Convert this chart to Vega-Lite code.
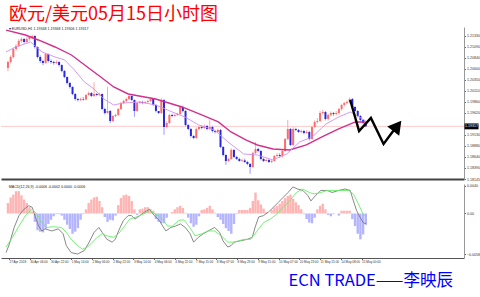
{
"$schema": "https://vega.github.io/schema/vega-lite/v6.json",
"background": "white",
"padding": {"left": 0, "top": 5, "right": 0, "bottom": 0},
"spacing": 2,
"datasets": {
"candles": [
{"i":0,"o":1.2062,"h":1.2078,"l":1.2055,"c":1.20751,"hist":0.0015},
{"i":1,"o":1.20751,"h":1.209,"l":1.2072,"c":1.20862,"hist":0.0023},
{"i":2,"o":1.20862,"h":1.2107,"l":1.2083,"c":1.2104,"hist":0.0027},
{"i":3,"o":1.2104,"h":1.2115,"l":1.21,"c":1.21107,"hist":0.0032},
{"i":4,"o":1.21107,"h":1.2126,"l":1.2108,"c":1.21219,"hist":0.0032},
{"i":5,"o":1.21219,"h":1.213,"l":1.2118,"c":1.21263,"hist":0.0026},
{"i":6,"o":1.21263,"h":1.2129,"l":1.2116,"c":1.21196,"hist":0.002},
{"i":7,"o":1.21196,"h":1.2131,"l":1.2117,"c":1.21263,"hist":0.0015},
{"i":8,"o":1.21263,"h":1.2133,"l":1.2122,"c":1.21308,"hist":0.0009},
{"i":9,"o":1.21308,"h":1.2136,"l":1.2126,"c":1.2133,"hist":0.0003},
{"i":10,"o":1.2133,"h":1.2135,"l":1.2105,"c":1.21085,"hist":-0.0012},
{"i":11,"o":1.21085,"h":1.211,"l":1.2083,"c":1.20862,"hist":-0.0024},
{"i":12,"o":1.20862,"h":1.209,"l":1.2073,"c":1.20773,"hist":-0.0026},
{"i":13,"o":1.20773,"h":1.208,"l":1.2068,"c":1.20729,"hist":-0.0027},
{"i":14,"o":1.20729,"h":1.2095,"l":1.2071,"c":1.20929,"hist":-0.0022},
{"i":15,"o":1.20929,"h":1.2094,"l":1.2074,"c":1.20773,"hist":-0.0015},
{"i":16,"o":1.20773,"h":1.2081,"l":1.2071,"c":1.20751,"hist":-0.0009},
{"i":17,"o":1.20751,"h":1.2078,"l":1.2069,"c":1.20729,"hist":-0.0004},
{"i":18,"o":1.20729,"h":1.2079,"l":1.207,"c":1.20751,"hist":-0.0001},
{"i":19,"o":1.20751,"h":1.2077,"l":1.2065,"c":1.20684,"hist":-0.0001},
{"i":20,"o":1.20684,"h":1.207,"l":1.2052,"c":1.20551,"hist":-0.0003},
{"i":21,"o":1.20551,"h":1.2057,"l":1.2039,"c":1.20417,"hist":-0.0009},
{"i":22,"o":1.20417,"h":1.2043,"l":1.2025,"c":1.20283,"hist":-0.0016},
{"i":23,"o":1.20283,"h":1.2031,"l":1.2016,"c":1.20194,"hist":-0.0022},
{"i":24,"o":1.20194,"h":1.2021,"l":1.2001,"c":1.20038,"hist":-0.0029},
{"i":25,"o":1.20038,"h":1.2006,"l":1.1989,"c":1.19927,"hist":-0.0026},
{"i":26,"o":1.19927,"h":1.1995,"l":1.1987,"c":1.19905,"hist":-0.0021},
{"i":27,"o":1.19905,"h":1.1996,"l":1.1988,"c":1.19927,"hist":-0.0009},
{"i":28,"o":1.19927,"h":1.1997,"l":1.1989,"c":1.19915,"hist":-0.0001},
{"i":29,"o":1.19915,"h":1.2004,"l":1.199,"c":1.20016,"hist":0.0006},
{"i":30,"o":1.20016,"h":1.2009,"l":1.2,"c":1.20061,"hist":0.0015},
{"i":31,"o":1.20061,"h":1.2008,"l":1.1997,"c":1.19994,"hist":0.002},
{"i":32,"o":1.19994,"h":1.203,"l":1.1997,"c":1.20038,"hist":0.0023},
{"i":33,"o":1.20038,"h":1.2006,"l":1.1999,"c":1.20016,"hist":0.0024},
{"i":34,"o":1.20016,"h":1.2007,"l":1.1999,"c":1.20038,"hist":0.0018},
{"i":35,"o":1.20038,"h":1.2005,"l":1.1968,"c":1.19704,"hist":0.0009},
{"i":36,"o":1.19704,"h":1.1973,"l":1.1958,"c":1.19615,"hist":-0.0005},
{"i":37,"o":1.19615,"h":1.202,"l":1.196,"c":1.1966,"hist":-0.0012},
{"i":38,"o":1.1966,"h":1.1968,"l":1.1939,"c":1.19437,"hist":-0.0009},
{"i":39,"o":1.19437,"h":1.1957,"l":1.1941,"c":1.19548,"hist":-0.001},
{"i":40,"o":1.19548,"h":1.196,"l":1.1952,"c":1.19571,"hist":-0.0003},
{"i":41,"o":1.19571,"h":1.1973,"l":1.1955,"c":1.19704,"hist":0.0012},
{"i":42,"o":1.19704,"h":1.1986,"l":1.1968,"c":1.19838,"hist":0.0022},
{"i":43,"o":1.19838,"h":1.1991,"l":1.1981,"c":1.19882,"hist":0.0026},
{"i":44,"o":1.19882,"h":1.1996,"l":1.1985,"c":1.19927,"hist":0.0027},
{"i":45,"o":1.19927,"h":1.2003,"l":1.199,"c":1.19994,"hist":0.0025},
{"i":46,"o":1.19994,"h":1.2001,"l":1.1988,"c":1.19905,"hist":0.0018},
{"i":47,"o":1.19905,"h":1.1992,"l":1.1953,"c":1.1966,"hist":0.0006},
{"i":48,"o":1.1966,"h":1.1986,"l":1.1964,"c":1.19838,"hist":-0.0002},
{"i":49,"o":1.19838,"h":1.1989,"l":1.1982,"c":1.1986,"hist":0.0006},
{"i":50,"o":1.1986,"h":1.1989,"l":1.1981,"c":1.19838,"hist":0.0007},
{"i":51,"o":1.19838,"h":1.1988,"l":1.1982,"c":1.1986,"hist":0.0009},
{"i":52,"o":1.1986,"h":1.1991,"l":1.1984,"c":1.19882,"hist":0.0009},
{"i":53,"o":1.19882,"h":1.1996,"l":1.1986,"c":1.19927,"hist":0.0006},
{"i":54,"o":1.19927,"h":1.1994,"l":1.1977,"c":1.19793,"hist":0.0004},
{"i":55,"o":1.19793,"h":1.1981,"l":1.1963,"c":1.1966,"hist":-0.0008},
{"i":56,"o":1.1966,"h":1.1966,"l":1.1959,"c":1.19615,"hist":-0.0012},
{"i":57,"o":1.19615,"h":1.1995,"l":1.1959,"c":1.19905,"hist":-0.0014},
{"i":58,"o":1.19905,"h":1.1993,"l":1.1913,"c":1.19303,"hist":-0.0014},
{"i":59,"o":1.19303,"h":1.1943,"l":1.1927,"c":1.19392,"hist":-0.0006},
{"i":60,"o":1.19392,"h":1.196,"l":1.1937,"c":1.19571,"hist":0.0},
{"i":61,"o":1.19571,"h":1.196,"l":1.1952,"c":1.19548,"hist":0.0002},
{"i":62,"o":1.19548,"h":1.196,"l":1.1953,"c":1.19571,"hist":0.0006},
{"i":63,"o":1.19571,"h":1.1962,"l":1.1955,"c":1.19593,"hist":0.0009},
{"i":64,"o":1.19593,"h":1.1978,"l":1.1957,"c":1.19749,"hist":0.0011},
{"i":65,"o":1.19749,"h":1.1978,"l":1.1963,"c":1.1966,"hist":0.0008},
{"i":66,"o":1.1966,"h":1.1968,"l":1.1932,"c":1.19348,"hist":0.0001},
{"i":67,"o":1.19348,"h":1.1937,"l":1.1923,"c":1.19259,"hist":-0.0006},
{"i":68,"o":1.19259,"h":1.1928,"l":1.1907,"c":1.19103,"hist":-0.0014},
{"i":69,"o":1.19103,"h":1.1912,"l":1.1903,"c":1.19058,"hist":-0.0019},
{"i":70,"o":1.19058,"h":1.1929,"l":1.1904,"c":1.19259,"hist":-0.0016},
{"i":71,"o":1.19259,"h":1.1933,"l":1.1923,"c":1.19303,"hist":-0.0004},
{"i":72,"o":1.19303,"h":1.1934,"l":1.1925,"c":1.19281,"hist":0.0005},
{"i":73,"o":1.19281,"h":1.1936,"l":1.1926,"c":1.19326,"hist":0.0006},
{"i":74,"o":1.19326,"h":1.1935,"l":1.1923,"c":1.19259,"hist":0.0008},
{"i":75,"o":1.19259,"h":1.1945,"l":1.1923,"c":1.19303,"hist":0.0011},
{"i":76,"o":1.19303,"h":1.1933,"l":1.1918,"c":1.19214,"hist":0.0006},
{"i":77,"o":1.19214,"h":1.1923,"l":1.1916,"c":1.19192,"hist":0.0001},
{"i":78,"o":1.19192,"h":1.1927,"l":1.1917,"c":1.19237,"hist":-0.0005},
{"i":79,"o":1.19237,"h":1.1926,"l":1.1883,"c":1.18858,"hist":-0.0009},
{"i":80,"o":1.18858,"h":1.1888,"l":1.1865,"c":1.1868,"hist":-0.0015},
{"i":81,"o":1.1868,"h":1.187,"l":1.1846,"c":1.18546,"hist":-0.0021},
{"i":82,"o":1.18546,"h":1.1862,"l":1.1852,"c":1.18591,"hist":-0.0025},
{"i":83,"o":1.18591,"h":1.1883,"l":1.1857,"c":1.18792,"hist":-0.0029},
{"i":84,"o":1.18792,"h":1.1881,"l":1.1861,"c":1.18636,"hist":-0.0015},
{"i":85,"o":1.18636,"h":1.1866,"l":1.1857,"c":1.18591,"hist":-0.0001},
{"i":86,"o":1.18591,"h":1.1862,"l":1.1853,"c":1.18546,"hist":0.0005},
{"i":87,"o":1.18546,"h":1.186,"l":1.1852,"c":1.1856,"hist":0.0005},
{"i":88,"o":1.1856,"h":1.186,"l":1.185,"c":1.18524,"hist":0.0005},
{"i":89,"o":1.18524,"h":1.1855,"l":1.1845,"c":1.1848,"hist":0.0005},
{"i":90,"o":1.1848,"h":1.185,"l":1.1826,"c":1.18413,"hist":0.0008},
{"i":91,"o":1.18413,"h":1.1875,"l":1.1839,"c":1.18725,"hist":0.0018},
{"i":92,"o":1.18725,"h":1.1897,"l":1.187,"c":1.18814,"hist":0.003},
{"i":93,"o":1.18814,"h":1.1884,"l":1.1874,"c":1.18769,"hist":0.0019},
{"i":94,"o":1.18769,"h":1.1879,"l":1.1856,"c":1.18591,"hist":0.0013},
{"i":95,"o":1.18591,"h":1.1862,"l":1.1852,"c":1.18546,"hist":0.0007},
{"i":96,"o":1.18546,"h":1.186,"l":1.1853,"c":1.18569,"hist":0.0002},
{"i":97,"o":1.18569,"h":1.1859,"l":1.185,"c":1.18524,"hist":0.0},
{"i":98,"o":1.18524,"h":1.1857,"l":1.185,"c":1.18546,"hist":0.0005},
{"i":99,"o":1.18546,"h":1.1868,"l":1.1853,"c":1.18658,"hist":0.0009},
{"i":100,"o":1.18658,"h":1.1872,"l":1.1863,"c":1.1868,"hist":0.0011},
{"i":101,"o":1.1868,"h":1.1872,"l":1.1862,"c":1.18658,"hist":0.0014},
{"i":102,"o":1.18658,"h":1.188,"l":1.1862,"c":1.18769,"hist":0.0018},
{"i":103,"o":1.18769,"h":1.1906,"l":1.1875,"c":1.19036,"hist":0.0022},
{"i":104,"o":1.19036,"h":1.1946,"l":1.1901,"c":1.19259,"hist":0.0025},
{"i":105,"o":1.19259,"h":1.1928,"l":1.1888,"c":1.18903,"hist":0.0027},
{"i":106,"o":1.18903,"h":1.193,"l":1.1888,"c":1.19259,"hist":0.0021},
{"i":107,"o":1.19259,"h":1.1929,"l":1.1921,"c":1.19237,"hist":0.0016},
{"i":108,"o":1.19237,"h":1.1926,"l":1.1917,"c":1.19192,"hist":0.0012},
{"i":109,"o":1.19192,"h":1.1925,"l":1.1916,"c":1.19214,"hist":0.0006},
{"i":110,"o":1.19214,"h":1.1924,"l":1.1914,"c":1.1917,"hist":-0.0001},
{"i":111,"o":1.1917,"h":1.1923,"l":1.1915,"c":1.19192,"hist":-0.0008},
{"i":112,"o":1.19192,"h":1.1922,"l":1.19,"c":1.19036,"hist":-0.0013},
{"i":113,"o":1.19036,"h":1.1933,"l":1.1902,"c":1.19303,"hist":-0.0014},
{"i":114,"o":1.19303,"h":1.1945,"l":1.1928,"c":1.19415,"hist":-0.0006},
{"i":115,"o":1.19415,"h":1.195,"l":1.1938,"c":1.19437,"hist":0.0006},
{"i":116,"o":1.19437,"h":1.1966,"l":1.1941,"c":1.19615,"hist":0.0011},
{"i":117,"o":1.19615,"h":1.1968,"l":1.1958,"c":1.19637,"hist":0.0014},
{"i":118,"o":1.19637,"h":1.1966,"l":1.1945,"c":1.19482,"hist":0.0006},
{"i":119,"o":1.19482,"h":1.196,"l":1.1945,"c":1.19571,"hist":-0.0002},
{"i":120,"o":1.19571,"h":1.1965,"l":1.1954,"c":1.19615,"hist":-0.0004},
{"i":121,"o":1.19615,"h":1.1964,"l":1.1955,"c":1.19593,"hist":-0.0001},
{"i":122,"o":1.19593,"h":1.1966,"l":1.1956,"c":1.19615,"hist":0.0},
{"i":123,"o":1.19615,"h":1.1973,"l":1.1958,"c":1.19704,"hist":-0.0003},
{"i":124,"o":1.19704,"h":1.1982,"l":1.1967,"c":1.19793,"hist":0.0004},
{"i":125,"o":1.19793,"h":1.1986,"l":1.1976,"c":1.19838,"hist":0.0004},
{"i":126,"o":1.19838,"h":1.1989,"l":1.1981,"c":1.1986,"hist":0.0004},
{"i":127,"o":1.1986,"h":1.1996,"l":1.1983,"c":1.19927,"hist":0.0004},
{"i":128,"o":1.19927,"h":1.1995,"l":1.1972,"c":1.19749,"hist":-0.0008},
{"i":129,"o":1.19749,"h":1.1977,"l":1.1963,"c":1.1966,"hist":-0.0018},
{"i":130,"o":1.1966,"h":1.1968,"l":1.1952,"c":1.19548,"hist":-0.0029},
{"i":131,"o":1.19548,"h":1.1957,"l":1.1943,"c":1.19459,"hist":-0.0037},
{"i":132,"o":1.19459,"h":1.1948,"l":1.1937,"c":1.19392,"hist":-0.003},
{"i":133,"o":1.19392,"h":1.1941,"l":1.193,"c":1.19317,"hist":-0.0016}
],
"slow": [
{"i":-0.7,"v":1.2146},{"i":6.5,"v":1.21352},{"i":11.3,"v":1.21241},{"i":17.5,"v":1.21085},{"i":23.6,"v":1.20907},{"i":29.5,"v":1.2064},{"i":34.5,"v":1.20417},{"i":39.3,"v":1.20194},{"i":44.7,"v":1.20038},{"i":54.9,"v":1.19927},{"i":64.7,"v":1.19749},{"i":72,"v":1.19571},{"i":78.2,"v":1.19415},{"i":82.9,"v":1.19192},{"i":88.4,"v":1.19014},{"i":92.7,"v":1.18903},{"i":98.5,"v":1.18814},{"i":104.7,"v":1.18792},{"i":110.9,"v":1.18903},{"i":116.7,"v":1.19081},{"i":122.9,"v":1.19259},{"i":129.1,"v":1.19415},{"i":133,"v":1.19415}
],
"fast": [
{"i":-0.7,"v":1.20974},{"i":2.9,"v":1.21085},{"i":8.4,"v":1.21196},{"i":12.7,"v":1.20974},{"i":17.5,"v":1.20862},{"i":21.1,"v":1.20796},{"i":24.7,"v":1.20573},{"i":28.4,"v":1.20306},{"i":32,"v":1.2015},{"i":35.6,"v":1.19927},{"i":39.3,"v":1.19793},{"i":42.9,"v":1.19838},{"i":49.1,"v":1.1986},{"i":54.9,"v":1.19793},{"i":61.1,"v":1.19637},{"i":65.8,"v":1.19526},{"i":70.9,"v":1.19348},{"i":76.7,"v":1.19237},{"i":81.8,"v":1.1897},{"i":87.6,"v":1.18702},{"i":92.7,"v":1.1868},{"i":98.5,"v":1.18569},{"i":103.6,"v":1.18702},{"i":108.4,"v":1.1897},{"i":113.1,"v":1.19081},{"i":118.2,"v":1.1937},{"i":122.9,"v":1.19526},{"i":127.3,"v":1.19637},{"i":133,"v":1.19437}
],
"macd": [
{"i":-0.7,"v":-0.0056},{"i":0.5,"v":-0.0044},{"i":2.3,"v":-0.002},{"i":4.1,"v":-0.0003},{"i":5.9,"v":0.0006},{"i":7.7,"v":0.0011},{"i":9,"v":0.0009},{"i":10.2,"v":-0.0005},{"i":11.4,"v":-0.0018},{"i":12.6,"v":-0.0025},{"i":13.8,"v":-0.0022},{"i":16.3,"v":-0.0025},{"i":18.7,"v":-0.0022},{"i":20.5,"v":-0.0029},{"i":21.7,"v":-0.0046},{"i":23.5,"v":-0.0056},{"i":25.9,"v":-0.0058},{"i":28.4,"v":-0.0053},{"i":30.2,"v":-0.0041},{"i":32,"v":-0.0027},{"i":33.8,"v":-0.002},{"i":35,"v":-0.0027},{"i":36.8,"v":-0.0037},{"i":38.7,"v":-0.0041},{"i":39.9,"v":-0.0037},{"i":41.1,"v":-0.0025},{"i":42.9,"v":-0.001},{"i":44.7,"v":-0.0003},{"i":45.9,"v":-0.0003},{"i":47.2,"v":-0.0008},{"i":49,"v":-0.0003},{"i":50.8,"v":0.0002},{"i":52.6,"v":0.0006},{"i":54.4,"v":-0.0003},{"i":56.3,"v":-0.001},{"i":57.5,"v":-0.0018},{"i":58.7,"v":-0.0025},{"i":60.5,"v":-0.002},{"i":62.3,"v":-0.0018},{"i":64.1,"v":-0.0015},{"i":65.9,"v":-0.002},{"i":67.7,"v":-0.0029},{"i":69,"v":-0.0041},{"i":70.8,"v":-0.0034},{"i":72.6,"v":-0.0029},{"i":74.4,"v":-0.0025},{"i":76.8,"v":-0.002},{"i":78.7,"v":-0.0027},{"i":79.9,"v":-0.0039},{"i":81.7,"v":-0.0048},{"i":82.9,"v":-0.0046},{"i":84.1,"v":-0.0041},{"i":86.5,"v":-0.0039},{"i":89,"v":-0.0037},{"i":90.8,"v":-0.0034},{"i":92,"v":-0.0018},{"i":93.2,"v":-0.0005},{"i":95,"v":-0.0003},{"i":96.8,"v":0.0002},{"i":98.7,"v":0.0009},{"i":100.5,"v":0.0016},{"i":102.3,"v":0.0023},{"i":104.1,"v":0.003},{"i":105.9,"v":0.0038},{"i":107.7,"v":0.0035},{"i":109.6,"v":0.0033},{"i":111.4,"v":0.0026},{"i":112.6,"v":0.0018},{"i":114.4,"v":0.0026},{"i":116.3,"v":0.0033},{"i":118.7,"v":0.0033},{"i":120.5,"v":0.003},{"i":122.9,"v":0.0033},{"i":125.3,"v":0.0035},{"i":127.2,"v":0.0033},{"i":128.4,"v":0.0018},{"i":129.6,"v":0.0004},{"i":130.8,"v":-0.0005},{"i":132,"v":-0.0013},{"i":133.2,"v":-0.0015}
],
"signal": [
{"i":-0.7,"v":-0.0048},{"i":1.7,"v":-0.0034},{"i":4.1,"v":-0.0018},{"i":6.5,"v":-0.0003},{"i":9,"v":0.0006},{"i":10.8,"v":-0.0001},{"i":12.6,"v":-0.0013},{"i":14.4,"v":-0.002},{"i":16.8,"v":-0.0019},{"i":19.9,"v":-0.002},{"i":21.7,"v":-0.0027},{"i":23.5,"v":-0.0037},{"i":25.9,"v":-0.0046},{"i":27.7,"v":-0.0051},{"i":29.6,"v":-0.0048},{"i":31.4,"v":-0.0041},{"i":33.2,"v":-0.0034},{"i":35,"v":-0.0029},{"i":36.8,"v":-0.0032},{"i":39.3,"v":-0.0034},{"i":41.1,"v":-0.0029},{"i":42.9,"v":-0.002},{"i":45.3,"v":-0.0008},{"i":47.7,"v":-0.0005},{"i":50.2,"v":-0.0001},{"i":52.6,"v":0.0004},{"i":55,"v":-0.0001},{"i":57.5,"v":-0.0008},{"i":59.3,"v":-0.0018},{"i":61.1,"v":-0.0018},{"i":63.5,"v":-0.001},{"i":65.3,"v":-0.0009},{"i":67.2,"v":-0.0018},{"i":69.6,"v":-0.0032},{"i":72,"v":-0.0029},{"i":74.4,"v":-0.0025},{"i":76.8,"v":-0.0025},{"i":79.3,"v":-0.0032},{"i":81.7,"v":-0.0041},{"i":84.1,"v":-0.0041},{"i":87.7,"v":-0.0037},{"i":90.2,"v":-0.0037},{"i":92.6,"v":-0.0025},{"i":95,"v":-0.0013},{"i":97.5,"v":-0.0008},{"i":99.9,"v":-0.0001},{"i":102.3,"v":0.0009},{"i":104.7,"v":0.0018},{"i":107.2,"v":0.003},{"i":109.6,"v":0.0035},{"i":112,"v":0.003},{"i":113.8,"v":0.0028},{"i":116.3,"v":0.003},{"i":118.7,"v":0.0033},{"i":122.9,"v":0.0033},{"i":126.5,"v":0.0033},{"i":128.4,"v":0.0028},{"i":130.2,"v":0.0014},{"i":132,"v":-0.0001},{"i":133.2,"v":-0.0005}
],
"arrow": [
{"i":127.2,"p":1.19905},{"i":130.5,"p":1.19214},{"i":134.9,"p":1.19504},{"i":139.6,"p":1.18925},{"i":143.6,"p":1.19248}
],
"head": [{"i":144.7,"p":1.19326}],
"last": [{"p":1.19317}],
"info": [{"main":"▾ EURUSD,H1  1.19348 1.19368 1.19306 1.19317","sub":"MACD(12,26,9) -0.0006 -0.0002 0.0000 -0.0006"}]
},
"vconcat": [
{
"width": 463,
"height": 152,
"title": {"text": "欧元/美元05月15日小时图", "anchor": "start", "frame": "group", "dx": 8, "fontSize": 18, "font": "Noto Sans CJK SC", "fontWeight": "normal", "color": "#ff0000", "offset": 3},
"resolve": {"axis": {"x": "independent", "y": "independent"}},
"layer": [
{"data": {"name": "last"}, "mark": {"type": "rule", "color": "#ffbcbc", "strokeWidth": 0.8},
 "encoding": {"y": {"field": "p", "type": "quantitative", "axis": null}}},
{"data": {"name": "candles"}, "mark": {"type": "rule", "strokeWidth": 1},
 "encoding": {
  "x": {"field": "i", "type": "quantitative", "scale": {"domain": [-0.727, 167.64], "nice": false, "zero": false},
        "axis": {"orient": "bottom", "labels": false, "ticks": false, "domain": true, "domainColor": "#444", "domainWidth": 2, "title": null, "grid": false}},
  "y": {"field": "l", "type": "quantitative", "scale": {"domain": [1.18145, 1.2153], "nice": false, "zero": false},
        "axis": {"orient": "right", "values": [1.2133, 1.2109, 1.2084, 1.206, 1.2035, 1.2011, 1.1986, 1.1962, 1.1913, 1.1888, 1.1864, 1.1839, 1.18145], "format": ".5f", "title": null, "grid": false, "tickSize": 1.5, "labelPadding": 1, "labelFontSize": 3.6, "domainColor": "#999"}},
  "y2": {"field": "h"},
  "color": {"condition": {"test": "datum.c >= datum.o", "value": "#ffa8a8"}, "value": "#9a9aff"}
 }},
{"data": {"name": "candles"}, "mark": {"type": "bar", "width": 2},
 "encoding": {
  "x": {"field": "i", "type": "quantitative", "axis": null},
  "y": {"field": "o", "type": "quantitative", "axis": null},
  "y2": {"field": "c"},
  "color": {"condition": {"test": "datum.c >= datum.o", "value": "#ff6a6a"}, "value": "#2828d8"}
 }},
{"data": {"name": "slow"}, "mark": {"type": "line", "color": "#d2308c", "strokeWidth": 1.4},
 "encoding": {"x": {"field": "i", "type": "quantitative", "axis": null}, "y": {"field": "v", "type": "quantitative", "axis": null}}},
{"data": {"name": "fast"}, "mark": {"type": "line", "color": "#cf8ef0", "strokeWidth": 0.9},
 "encoding": {"x": {"field": "i", "type": "quantitative", "axis": null}, "y": {"field": "v", "type": "quantitative", "axis": null}}},
{"data": {"name": "arrow"}, "mark": {"type": "line", "color": "#000000", "strokeWidth": 2.4, "strokeJoin": "miter"},
 "encoding": {"x": {"field": "i", "type": "quantitative", "axis": null}, "y": {"field": "p", "type": "quantitative", "axis": null}}},
{"data": {"name": "head"}, "mark": {"type": "point", "shape": "triangle-up", "filled": true, "color": "#000000", "opacity": 1, "size": 230, "angle": 38},
 "encoding": {"x": {"field": "i", "type": "quantitative", "axis": null}, "y": {"field": "p", "type": "quantitative", "axis": null}}},
{"data": {"name": "info"}, "mark": {"type": "text", "align": "left", "baseline": "middle", "fontSize": 3.6, "font": "Liberation Sans", "color": "#222"},
 "encoding": {"x": {"datum": 0.3, "axis": null}, "y": {"datum": 1.2149, "axis": null}, "text": {"field": "main"}}},
{"data": {"name": "last"}, "mark": {"type": "point", "shape": "M-1,-0.42H1V0.42H-1Z", "filled": true, "color": "#000000", "opacity": 1, "size": 196},
 "encoding": {"x": {"datum": 172.3, "axis": null}, "y": {"field": "p", "type": "quantitative", "axis": null}}},
{"data": {"name": "last"}, "mark": {"type": "text", "align": "center", "baseline": "middle", "fontSize": 3.6, "font": "Liberation Sans", "color": "#ffffff"},
 "encoding": {"x": {"datum": 172.3, "axis": null}, "y": {"field": "p", "type": "quantitative", "axis": null}, "text": {"field": "p", "format": ".5f"}}}
]
},
{
"width": 463,
"height": 74,
"title": {"text": "ECN TRADE——李映辰", "orient": "bottom", "anchor": "end", "frame": "group", "dx": -11, "fontSize": 16.5, "font": "Noto Sans CJK SC", "fontWeight": "normal", "color": "#0000ff", "offset": 9},
"resolve": {"axis": {"x": "independent", "y": "independent"}},
"layer": [
{"data": {"name": "candles"}, "mark": {"type": "bar", "width": 2.4},
 "encoding": {
  "x": {"field": "i", "type": "quantitative", "scale": {"domain": [-0.727, 167.64], "nice": false, "zero": false},
        "axis": {"orient": "bottom", "values": [0.364, 8.073, 15.782, 23.491, 31.2, 38.909, 46.618, 54.327, 62.036, 69.745, 77.454, 85.163, 92.872, 100.581, 108.29, 115.999, 123.708, 131.417],
                 "labelExpr": "['27 Apr 2018','30 Apr 06:00','30 Apr 22:00','1 May 14:00','2 May 06:00','2 May 22:00','3 May 14:00','4 May 06:00','4 May 22:00','7 May 15:00','8 May 07:00','8 May 23:00','9 May 15:00','10 May 07:00','10 May 23:00','11 May 15:00','14 May 08:00','15 May 00:00'][round((datum.value-0.364)/7.709)]",
                 "labelAlign": "left", "labelPadding": 1, "tickSize": 1.5, "labelFontSize": 3.1, "labelOverlap": false, "domainColor": "#555", "title": null, "grid": false}},
  "y": {"field": "hist", "type": "quantitative", "scale": {"domain": [-0.00637, 0.00422], "nice": false, "zero": false},
        "axis": {"orient": "right", "values": [0.004, 0, -0.0058], "labelExpr": "datum.value == 0 ? '0.00' : format(datum.value, '.4f')", "title": null, "grid": false, "tickSize": 1.5, "labelPadding": 1, "labelFontSize": 3.6, "domainColor": "#999"}},
  "y2": {"datum": 0},
  "color": {"condition": {"test": "datum.hist >= 0", "value": "#ffb4b4"}, "value": "#b4b4ff"}
 }},
{"data": {"name": "macd"}, "mark": {"type": "line", "color": "#7a7a7a", "strokeWidth": 0.9},
 "encoding": {"x": {"field": "i", "type": "quantitative", "axis": null}, "y": {"field": "v", "type": "quantitative", "axis": null}}},
{"data": {"name": "signal"}, "mark": {"type": "line", "color": "#66ee66", "strokeWidth": 0.9},
 "encoding": {"x": {"field": "i", "type": "quantitative", "axis": null}, "y": {"field": "v", "type": "quantitative", "axis": null}}},
{"data": {"name": "info"}, "mark": {"type": "text", "align": "left", "baseline": "middle", "fontSize": 3.6, "font": "Liberation Sans", "color": "#222"},
 "encoding": {"x": {"datum": 0.3, "axis": null}, "y": {"datum": 0.0038, "axis": null}, "text": {"field": "sub"}}}
]
}
],
"config": {
 "view": {"stroke": null},
 "axis": {"labelFont": "Liberation Sans", "labelFontSize": 3.6, "labelColor": "#333", "tickColor": "#666", "grid": false}
}
}
